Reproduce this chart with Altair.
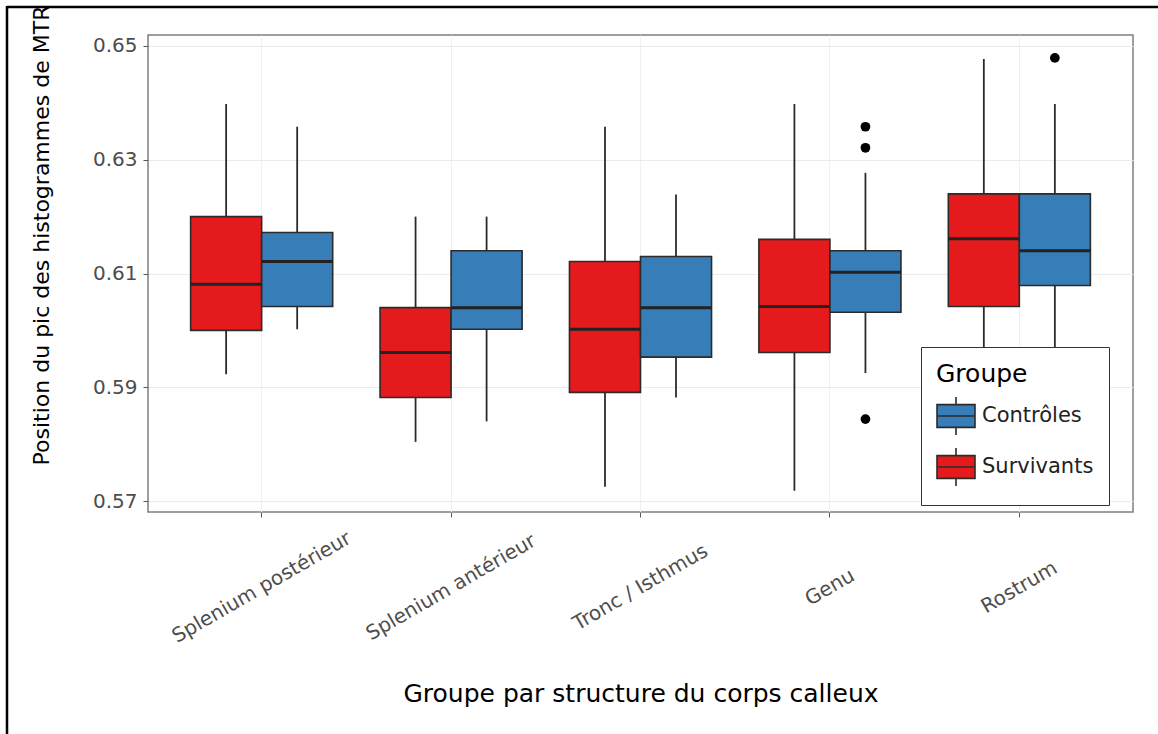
import altair as alt
import pandas as pd

# ---------------- data ----------------
structures = ["Splenium postérieur", "Splenium antérieur", "Tronc / Isthmus", "Genu", "Rostrum"]
groups = ["Survivants", "Contrôles"]

surv_lower  = [0.5923, 0.5804, 0.5725, 0.5718, 0.5840]
surv_q1     = [0.6000, 0.5882, 0.5891, 0.5961, 0.6042]
surv_median = [0.6081, 0.5961, 0.6002, 0.6042, 0.6161]
surv_q3     = [0.6200, 0.6040, 0.6121, 0.6160, 0.6240]
surv_upper  = [0.6398, 0.6200, 0.6358, 0.6398, 0.6477]

ctrl_lower  = [0.6002, 0.5840, 0.5882, 0.5925, 0.5920]
ctrl_q1     = [0.6042, 0.6002, 0.5953, 0.6032, 0.6079]
ctrl_median = [0.6121, 0.6040, 0.6040, 0.6102, 0.6140]
ctrl_q3     = [0.6172, 0.6140, 0.6130, 0.6140, 0.6240]
ctrl_upper  = [0.6358, 0.6200, 0.6239, 0.6277, 0.6398]

outlier_structure = ["Genu", "Genu", "Genu", "Rostrum"]
outlier_group     = ["Contrôles", "Contrôles", "Contrôles", "Contrôles"]
outlier_value     = [0.6358, 0.6321, 0.5844, 0.6479]

y_ticks = [0.57, 0.59, 0.61, 0.63, 0.65]

RED = "#E41A1C"
BLUE = "#377EB8"
FONT = "DejaVu Sans"

# ---------------- tables ----------------
rows = []
for i, s in enumerate(structures):
    rows.append(dict(Structure=s, Groupe="Survivants", lower=surv_lower[i], q1=surv_q1[i],
                     median=surv_median[i], q3=surv_q3[i], upper=surv_upper[i]))
    rows.append(dict(Structure=s, Groupe="Contrôles", lower=ctrl_lower[i], q1=ctrl_q1[i],
                     median=ctrl_median[i], q3=ctrl_q3[i], upper=ctrl_upper[i]))
df = pd.DataFrame(rows)
out_df = pd.DataFrame({"Structure": outlier_structure, "Groupe": outlier_group, "value": outlier_value})

# ---------------- scales / encodings ----------------
x_enc = alt.X(
    "Structure:N",
    sort=structures,
    scale=alt.Scale(domain=structures, paddingInner=0.25, paddingOuter=0.225),
    axis=alt.Axis(
        title="Groupe par structure du corps calleux",
        labelAngle=330, labelAlign="center", labelBaseline="middle",
        labelPadding=70, labelFontSize=20, labelColor="#4D4D4D", labelFont=FONT,
        tickSize=5, tickColor="#555555", domain=False,
        titleFontSize=25, titleFont=FONT, titleFontWeight="normal", titleColor="black",
        titleY=189, titleBaseline="alphabetic",
        grid=True, gridColor="#F0F0F0", labelLimit=400,
    ),
)
xo_enc = alt.XOffset("Groupe:N", sort=groups,
                     scale=alt.Scale(domain=groups, paddingInner=0, paddingOuter=0))
y_scale = alt.Scale(domain=[0.56807, 0.65193], nice=False, zero=False)
y_axis = alt.Axis(
    title="Position du pic des histogrammes de MTR",
    values=y_ticks, format=".2f",
    labelFontSize=20, labelColor="#4D4D4D", labelFont=FONT, labelPadding=6,
    tickSize=5, tickColor="#555555", domain=False,
    titleFontSize=22, titleFont=FONT, titleFontWeight="normal", titleColor="black",
    titleX=-107, titleY=200, titleBaseline="middle", titleAngle=270,
    grid=True, gridColor="#EBEBEB",
)

base = alt.Chart(df).encode(x=x_enc, xOffset=xo_enc)

whiskers = base.mark_rule(color="#2B2B2B", strokeWidth=1.8).encode(
    y=alt.Y("lower:Q", scale=y_scale, axis=y_axis),
    y2="upper:Q",
)

boxes = base.mark_bar(stroke="#2B2B2B", strokeWidth=1.6, opacity=1).encode(
    y=alt.Y("q1:Q", scale=y_scale),
    y2="q3:Q",
    color=alt.Color(
        "Groupe:N",
        scale=alt.Scale(domain=["Contrôles", "Survivants"], range=[BLUE, RED]),
        legend=alt.Legend(
            title="Groupe", orient="none", legendX=773, legendY=312,
            fillColor="white", strokeColor="#333333", padding=15,
            titleFontSize=25, titleFont=FONT, titleFontWeight="normal", titleColor="black",
            titlePadding=9,
            labelFontSize=21, labelFont=FONT, labelColor="#222222", labelOffset=6,
            symbolType="M-1,-0.6L1,-0.6L1,0.6L-1,0.6Z M-1,0L1,0 M0,-1L0,-0.6 M0,0.6L0,1",
            symbolSize=1444, symbolStrokeColor="#2B2B2B", symbolStrokeWidth=1.6,
            symbolOpacity=1, rowPadding=5,
        ),
    ),
)

medians = base.mark_bar(color="#222222", stroke="#222222", strokeWidth=3).encode(
    y=alt.Y("median:Q", scale=y_scale),
    y2="median:Q",
)

outliers = alt.Chart(out_df).mark_circle(size=95, color="black", opacity=1).encode(
    x=alt.X("Structure:N", sort=structures),
    xOffset=alt.XOffset("Groupe:N", sort=groups),
    y=alt.Y("value:Q", scale=y_scale),
)

frame_df = pd.DataFrame({"k": [0]})
frame_top = alt.Chart(frame_df).mark_rule(color="black", strokeWidth=2.5).encode(
    x=alt.value(-141), x2=alt.value(1010), y=alt.value(-28)
)
frame_left = alt.Chart(frame_df).mark_rule(color="black", strokeWidth=2.5).encode(
    x=alt.value(-141), y=alt.value(-29), y2=alt.value(699)
)

chart = alt.layer(whiskers, boxes, medians, outliers, frame_top, frame_left).properties(
    width=985, height=477,
    autosize=alt.AutoSizeParams(type="none"),
    padding={"left": 148, "top": 35, "right": 25, "bottom": 222},
    background="white",
).configure_view(
    stroke="#7F7F7F", strokeWidth=1.5
)

chart.save("out.html", embed_options={"renderer": "svg", "actions": False})
